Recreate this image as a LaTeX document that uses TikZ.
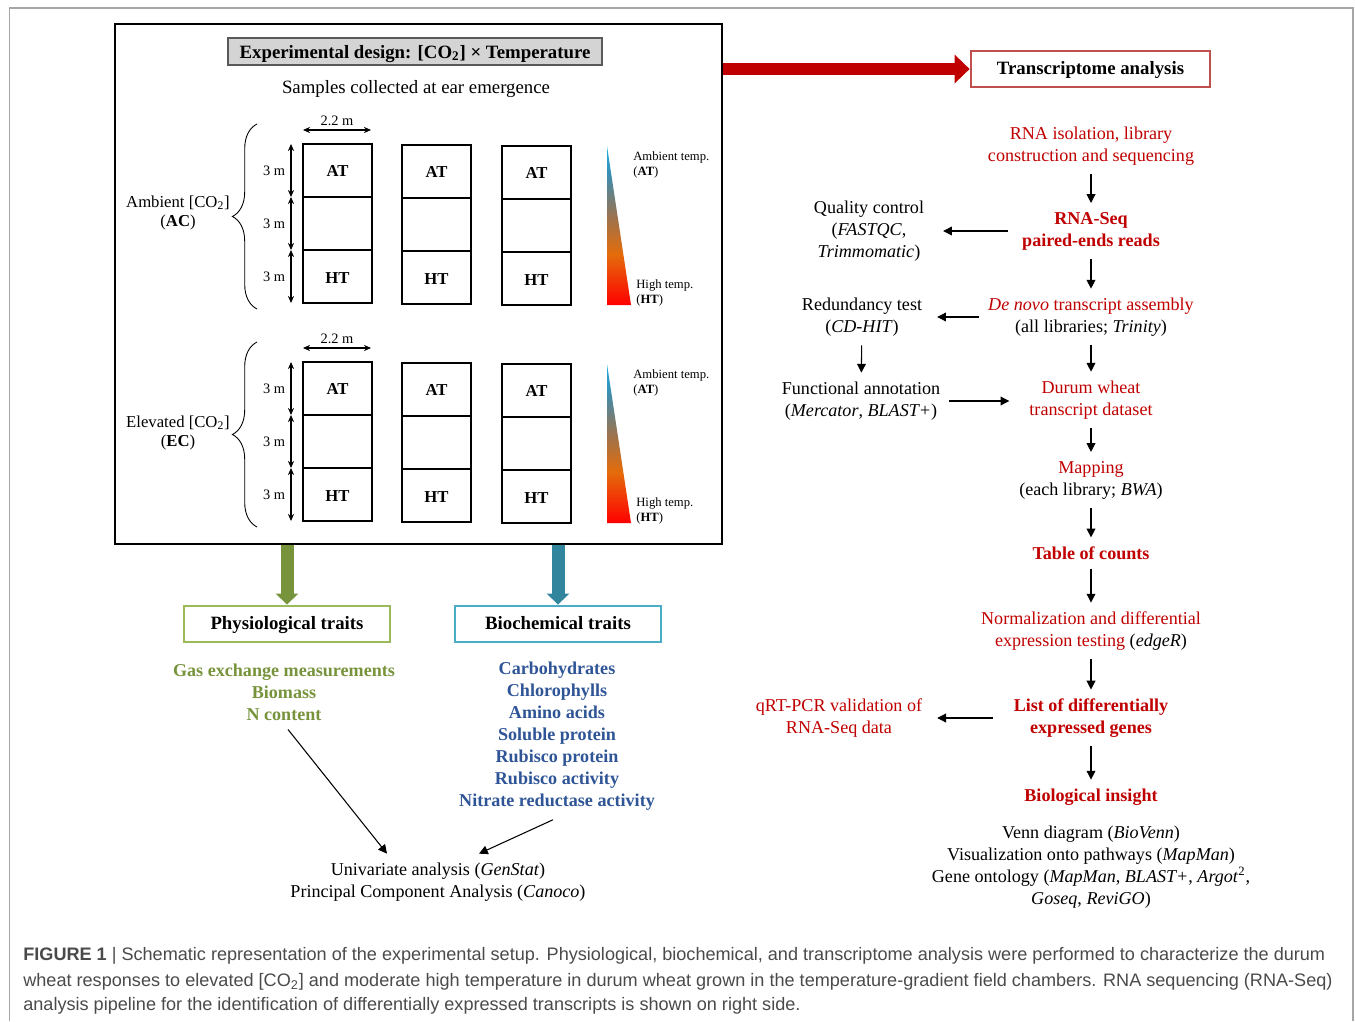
\documentclass[tikz,border=0pt]{standalone}
\usepackage{fontspec}
\setmainfont{Liberation Serif}
\newfontfamily\capfont{Liberation Sans}
\usetikzlibrary{arrows.meta,decorations.pathreplacing,calc}

\definecolor{ared}{HTML}{C00000}
\definecolor{tbord}{HTML}{C0504D}
\definecolor{garrow}{HTML}{77933C}
\definecolor{gbord}{HTML}{9BBB59}
\definecolor{barrow}{HTML}{31859C}
\definecolor{bbord}{HTML}{4BACC6}
\definecolor{btext}{HTML}{2F5597}
\definecolor{capgray}{HTML}{4A4A4A}
\definecolor{tred}{HTML}{FF0000}
\definecolor{torange}{HTML}{E46C0A}
\definecolor{tbrown}{HTML}{9A7350}
\definecolor{tteal}{HTML}{3C8DB0}
\definecolor{tcyan}{HTML}{1AAEE8}

\pgfdeclareverticalshading{tempgrad}{100bp}{color(0bp)=(tred); color(25bp)=(tred); color(41bp)=(torange); color(53bp)=(tbrown); color(66bp)=(tteal); color(75bp)=(tcyan); color(100bp)=(tcyan)}

\newcommand{\txtsize}{\fontsize{10.3}{12.5}\selectfont}
\newcommand{\headsize}{\fontsize{10.7}{12.5}\selectfont}
\newcommand{\lblsize}{\fontsize{9.5}{10.8}\selectfont}
\newcommand{\dimsize}{\fontsize{8.2}{9.8}\selectfont}
\newcommand{\tempsize}{\fontsize{7.2}{8.5}\selectfont}
\newcommand{\capsize}{\fontsize{10.3}{14.2}\selectfont}

\tikzset{
flow/.style={align=center, inner sep=5pt, font=\txtsize},
arr/.style={-{Triangle[length=5pt,width=5pt]}, line width=0.6pt},
dimarr/.style={{Stealth[length=4pt,width=3.5pt]}-{Stealth[length=4pt,width=3.5pt]}, line width=0.6pt},
plotline/.style={line width=0.7pt},
plotlbl/.style={font=\lblsize\bfseries, inner sep=1pt},
dimlbl/.style={font=\dimsize, inner sep=1pt},
templbl/.style={font=\tempsize, align=left, inner sep=0pt, anchor=west},
co2lbl/.style={font=\lblsize, align=center, inner sep=1pt},
headbox/.style={line width=1.6pt, inner sep=0pt, text height=8.6pt, text depth=1.8pt, font=\headsize\bfseries},
trait/.style={headbox, draw=#1, minimum width=4.12cm, minimum height=0.72cm},
bigarr/.style={draw=#1, line width=0.26cm},
field/.pic={
  \foreach \cx/\dy in {303/0,402/1,502/2}{
    \draw[plotline] (\cx,144+\dy) rectangle ++(69,53);
    \draw[plotline] (\cx,197+\dy) rectangle ++(69,53);
    \draw[plotline] (\cx,250+\dy) rectangle ++(69,53);
    \node[plotlbl] (at\cx) at (\cx+34.5,171+\dy) {AT};
    \node[plotlbl] (ht\cx) at (\cx+34.5,278+\dy) {HT};
  }
  \draw[dimarr] (303,130) -- node[midway, above=1pt, dimlbl] (wd) {2.2 m} (371,130);
  \foreach \ya/\yb in {144/197,197/250,250/303}
    \draw[dimarr] (291,\ya) -- node[midway, left=2pt, dimlbl] (len\ya) {3 m} (291,\yb);
  \draw[decorate, decoration={brace, amplitude=14pt}, line width=0.5pt] (257,309) -- (257,124);
  \shade[shading=tempgrad] (607,146) -- (631,305) -- (607,305) -- cycle;
  \node[templbl] (atlbl) at (633,164.5) {Ambient temp.\\(\textbf{AT})};
  \node[templbl] (htlbl) at (636,293) {High temp.\\(\textbf{HT})};
  }
}

\begin{document}
\begin{tikzpicture}[x=0.02cm, y=-0.02cm]
\useasboundingbox (0,0) rectangle (1355,1021);
\draw[black!35, line width=0.8pt] (9.5,1021) -- (9.5,8) -- (1353,8) -- (1353,1021);

\node[draw, line width=1.1pt, minimum width=12.14cm, minimum height=10.4cm] (design) at (418.5,284) {};
\node[headbox, draw=black!65, fill=black!17, line width=0.8pt, minimum width=7.48cm, minimum height=0.54cm, text height=9pt, text depth=1.6pt] (title) at (415,51.5) {Experimental design: [CO\textsubscript{2}] × Temperature};
\node[flow, font=\headsize] (samples) at (416,89) {Samples collected at ear emergence};
\pic (ac) at (0,0) {field};
\pic (ec) at (0,218) {field};
\node[co2lbl] (aclbl) at (178,213) {Ambient [CO\textsubscript{2}]\\(\textbf{AC})};
\node[co2lbl] (eclbl) at (178,433) {Elevated [CO\textsubscript{2}]\\(\textbf{EC})};

\node[headbox, draw=tbord, minimum width=4.78cm, minimum height=0.72cm] (tra) at (1090.5,69) {Transcriptome analysis};
\draw[bigarr=ared, -{Triangle[length=0.3cm,width=0.56cm]}] (tra.west -| design.east) -- (tra.west);

\node[flow, text=ared] (rna) at (1091,146) {RNA isolation, library\\construction and sequencing};
\node[flow, text=ared, font=\txtsize\bfseries] (seq) at (1091,231) {RNA-Seq\\paired-ends reads};
\node[flow] (asm) at (1091,317) {\textcolor{ared}{\textit{De novo} transcript assembly}\\(all libraries; \textit{Trinity})};
\node[flow, text=ared] (dw) at (1091,400) {Durum wheat\\transcript dataset};
\node[flow] (map) at (1091,480) {\textcolor{ared}{Mapping}\\(each library; \textit{BWA})};
\node[flow, text=ared, font=\txtsize\bfseries] (tab) at (1091,553) {Table of counts};
\node[flow] (norm) at (1091,631) {\textcolor{ared}{Normalization and differential}\\\textcolor{ared}{expression testing} (\textit{edgeR})};
\node[flow, text=ared, font=\txtsize\bfseries] (deg) at (1091,718) {List of differentially\\expressed genes};
\node[flow, text=ared, font=\txtsize\bfseries] (insight) at (1091,797) {Biological insight};
\node[flow] (tools) at (1091,867) {Venn diagram (\textit{BioVenn})\\Visualization onto pathways (\textit{MapMan})\\Gene ontology (\textit{MapMan}, \textit{BLAST+}, \textit{Argot}\textsuperscript{2},\\\textit{Goseq}, \textit{ReviGO})};

\node[flow] (qc) at (869,231) {Quality control\\(\textit{FASTQC},\\\textit{Trimmomatic})};
\node[flow] (cdhit) at (862,317) {Redundancy test\\(\textit{CD-HIT})};
\node[flow] (annot) at (861,401) {Functional annotation\\(\textit{Mercator}, \textit{BLAST+})};
\node[flow, text=ared] (qpcr) at (839,718) {qRT-PCR validation of\\RNA-Seq data};

\draw[arr] (rna) -- (seq);
\draw[arr] (seq) -- (asm);
\draw[arr] (asm) -- (dw);
\draw[arr] (dw) -- (map);
\draw[arr] (map) -- (tab);
\draw[arr] (tab) -- (norm);
\draw[arr] (norm) -- (deg);
\draw[arr] (deg) -- (insight);
\draw[arr, shorten <=0.1cm, shorten >=0.2cm] (seq.west) -- (qc.east);
\draw[arr, shorten >=0.12cm] (asm.west) -- (cdhit.east);
\draw[arr] (cdhit) -- (annot);
\draw[arr, shorten >=0.22cm] (annot.east) -- (annot.east -| dw.west);
\draw[arr, shorten <=0.24cm, shorten >=0.12cm] (deg.west) -- (qpcr.east);

\node[trait=gbord] (phys) at (287,624) {Physiological traits};
\node[trait=bbord] (bioc) at (558,624) {Biochemical traits};
\draw[bigarr=garrow, -{Triangle[length=0.22cm,width=0.44cm]}] (design.south -| phys.north) -- (phys.north);
\draw[bigarr=barrow, -{Triangle[length=0.22cm,width=0.44cm]}] (design.south -| bioc.north) -- (bioc.north);

\node[flow, text=garrow, font=\txtsize\bfseries] (gas) at (284,692) {Gas exchange measurements\\Biomass\\N content};
\node[flow, text=btext, font=\txtsize\bfseries] (chem) at (557,736.5) {Carbohydrates\\Chlorophylls\\Amino acids\\Soluble protein\\Rubisco protein\\Rubisco activity\\Nitrate reductase activity};
\node[flow] (uni) at (438,882) {Univariate analysis (\textit{GenStat})\\Principal Component Analysis (\textit{Canoco})};
\draw[arr] ([xshift=0.08cm]gas.south) -- ([xshift=-1.02cm]uni.north);
\draw[arr] ([xshift=-0.08cm]chem.south) -- ([xshift=0.82cm]uni.north);

\node[anchor=west, inner sep=0pt, font=\capfont\capsize, text=capgray] (cap1) at (23,956) {\textbf{FIGURE 1} | Schematic representation of the experimental setup. Physiological, biochemical, and transcriptome analysis were performed to characterize the durum};
\node[anchor=west, inner sep=0pt, font=\capfont\capsize, text=capgray] (cap2) at (23,982) {wheat responses to elevated [CO\textsubscript{2}] and moderate high temperature in durum wheat grown in the temperature-gradient field chambers. RNA sequencing (RNA-Seq)};
\node[anchor=west, inner sep=0pt, font=\capfont\capsize, text=capgray] (cap3) at (23,1006) {analysis pipeline for the identification of differentially expressed transcripts is shown on right side.};
\end{tikzpicture}
\end{document}
